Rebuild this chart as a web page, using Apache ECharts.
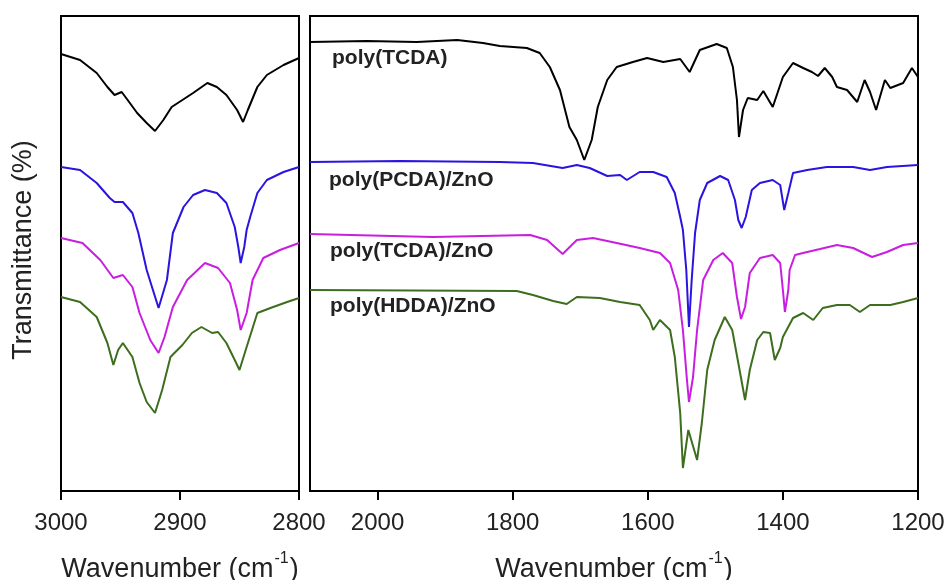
<!DOCTYPE html>
<html>
<head>
<meta charset="utf-8">
<script src="https://cdn.jsdelivr.net/npm/echarts@6/dist/echarts.min.js"></script>
<style>html,body{margin:0;padding:0;background:#fff;overflow:hidden}#c{width:944px;height:580px}</style>
</head>
<body>
<div id="c"></div>
<script>
// ---- Left panel (C-H stretching region), wavenumber in cm-1, transmittance in arbitrary offset units
const leftTicks = [3000, 2900, 2800];
const wnL_TCDA = [3000,2984,2970,2961,2955,2949,2944,2936,2928,2921,2914,2907,2898,2889,2877,2869,2861,2852,2847,2843,2835,2827,2813,2800];
const tL_TCDA  = [437,431,418,404,396,399,391,378,368,360,371,384,391,398,408,404,396,381,369,381,404,416,426,433];
const wnL_PCDAZnO = [3000,2984,2970,2959,2955,2948,2940,2935,2928,2918,2911,2906,2897,2889,2879,2869,2861,2854,2851,2849,2846,2844,2841,2835,2827,2813,2800];
const tL_PCDAZnO  = [324,321,308,293,289,289,278,258,221,183,211,258,284,296,301,298,288,264,244,228,244,261,274,298,311,319,324];
const wnL_TCDAZnO = [3000,2982,2967,2956,2948,2940,2934,2925,2918,2913,2906,2894,2879,2868,2858,2852,2849,2844,2839,2830,2816,2800];
const tL_TCDAZnO  = [253,248,231,213,216,204,178,151,138,154,184,211,228,223,208,181,161,178,211,233,241,248];
const wnL_HDDAZnO = [3000,2984,2970,2961,2956,2952,2948,2940,2934,2928,2921,2915,2908,2898,2890,2882,2873,2868,2861,2854,2850,2844,2835,2824,2810,2800];
const tL_HDDAZnO  = [194,189,174,148,126,141,148,134,108,89,78,101,134,146,158,164,158,159,148,131,121,144,178,183,189,193];

// ---- Right panel (fingerprint region)
const rightTicks = [2000, 1800, 1600, 1400, 1200];
const wnR_TCDA = [2100,2016,1942,1882,1844,1819,1779,1760,1745,1730,1716,1705,1694,1683,1674,1660,1646,1622,1601,1577,1552,1538,1523,1498,1483,1474,1468,1465,1459,1452,1438,1429,1415,1400,1385,1370,1357,1348,1338,1327,1320,1305,1290,1279,1271,1262,1249,1241,1222,1209,1200];
const tR_TCDA  = [449,450,449,451,448,445,443,438,424,401,364,351,331,351,384,411,424,429,433,429,432,419,441,447,443,424,391,354,381,393,391,400,384,414,428,423,419,415,423,414,404,401,389,411,399,381,411,403,408,423,414];
const wnR_PCDAZnO = [2100,1967,1819,1770,1726,1705,1686,1660,1641,1631,1612,1592,1572,1560,1552,1548,1543,1539,1535,1530,1523,1512,1493,1481,1471,1466,1461,1455,1446,1434,1415,1404,1398,1392,1385,1364,1335,1296,1271,1246,1200];
const tR_PCDAZnO  = [329,330,329,328,323,326,323,315,316,311,319,319,314,298,274,261,221,164,211,258,291,308,315,311,291,271,263,274,301,308,311,306,281,298,318,321,324,324,321,324,326];
const wnR_TCDAZnO = [2100,1918,1774,1749,1726,1705,1681,1646,1612,1582,1567,1555,1548,1542,1539,1533,1527,1518,1503,1489,1475,1468,1462,1456,1449,1434,1415,1404,1400,1397,1392,1390,1382,1364,1345,1320,1296,1268,1246,1222,1200];
const tR_TCDAZnO  = [257,254,256,251,237,251,253,248,243,238,228,201,161,111,89,114,161,211,231,238,228,194,172,184,218,233,236,228,201,179,201,221,236,239,242,246,243,234,239,246,248];
const wnR_HDDAZnO = [2100,1794,1770,1740,1720,1705,1671,1641,1612,1597,1592,1582,1567,1560,1552,1548,1540,1527,1520,1512,1501,1486,1475,1466,1456,1449,1438,1429,1419,1412,1404,1400,1385,1370,1355,1341,1320,1301,1286,1271,1241,1222,1200];
const tR_HDDAZnO  = [201,200,196,190,187,194,193,189,186,171,161,171,161,134,78,23,61,31,68,121,151,174,161,128,91,121,151,159,158,131,143,154,173,178,171,183,186,186,179,186,186,189,193];

const seriesNames = ['poly(TCDA)', 'poly(PCDA)/ZnO', 'poly(TCDA)/ZnO', 'poly(HDDA)/ZnO'];
const seriesColors = ['#000000', '#2a14e0', '#c81ee0', '#3c6e1e'];
const yTitle = 'Transmittance (%)';

const FONT = '"Liberation Sans", Arial, sans-serif';
const zip = (a, b) => a.map((x, i) => [x, b[i]]);

const leftSets = [[wnL_TCDA,tL_TCDA],[wnL_PCDAZnO,tL_PCDAZnO],[wnL_TCDAZnO,tL_TCDAZnO],[wnL_HDDAZnO,tL_HDDAZnO]];
const rightSets = [[wnR_TCDA,tR_TCDA],[wnR_PCDAZnO,tR_PCDAZnO],[wnR_TCDAZnO,tR_TCDAZnO],[wnR_HDDAZnO,tR_HDDAZnO]];

const series = [];
leftSets.forEach((s, i) => series.push({
  name: seriesNames[i], type: 'line', xAxisIndex: 0, yAxisIndex: 0,
  data: zip(s[0], s[1]), symbol: 'none', smooth: false,
  lineStyle: {color: seriesColors[i], width: 2}, itemStyle: {color: seriesColors[i]}
}));
rightSets.forEach((s, i) => series.push({
  name: seriesNames[i], type: 'line', xAxisIndex: 1, yAxisIndex: 1,
  data: zip(s[0], s[1]), symbol: 'none', smooth: false,
  lineStyle: {color: seriesColors[i], width: 2}, itemStyle: {color: seriesColors[i]}
}));

const xName = '{t|Wavenumber (cm}{s|-1}{t|)}';
const xNameStyle = {
  rich: {
    t: {fontSize: 27, fontFamily: FONT, color: '#222', lineHeight: 32, verticalAlign: 'bottom'},
    s: {fontSize: 16, fontFamily: FONT, color: '#222', lineHeight: 32, verticalAlign: 'top', padding: [0, 1, 0, 1]}
  }
};
function xAxisCfg(gi, min, max, interval, showMax) {
  return {
    gridIndex: gi, type: 'value', inverse: true, min: min, max: max, interval: interval,
    axisLine: {show: true, onZero: false, lineStyle: {color: '#000', width: 2}},
    axisTick: {show: true, inside: false, length: 9, lineStyle: {color: '#000', width: 2}},
    axisLabel: {show: true, margin: 20, fontSize: 24, fontFamily: FONT, color: '#222',
      showMinLabel: true, showMaxLabel: showMax, hideOverlap: false, formatter: v => String(v)},
    splitLine: {show: false},
    name: xName, nameLocation: 'middle', nameGap: 60, nameTextStyle: xNameStyle
  };
}
function yAxisCfg(gi) {
  return {gridIndex: gi, type: 'value', min: 0, max: 475, show: false, splitLine: {show: false}};
}

const labelPos = [[332, 60], [329, 182], [330, 253], [330, 308]];
const graphic = seriesNames.map((n, i) => ({
  type: 'text', left: labelPos[i][0], top: labelPos[i][1] - 12,
  style: {text: n, font: 'bold 21px ' + FONT, fill: '#222'}
}));
graphic.push({
  type: 'text', x: 24, y: 250, rotation: Math.PI / 2,
  style: {text: yTitle, font: '27px ' + FONT, fill: '#222', align: 'center', verticalAlign: 'middle'}
});

const chart = echarts.init(document.getElementById('c'), null, {renderer: 'canvas'});
chart.setOption({
  animation: false,
  backgroundColor: '#fff',
  grid: [
    {left: 61, top: 16, width: 238, height: 475, show: true, borderColor: '#000', borderWidth: 2,
     backgroundColor: 'transparent', containLabel: false, outerBoundsMode: 'none'},
    {left: 310, top: 16, width: 608, height: 475, show: true, borderColor: '#000', borderWidth: 2,
     backgroundColor: 'transparent', containLabel: false, outerBoundsMode: 'none'}
  ],
  xAxis: [xAxisCfg(0, leftTicks[leftTicks.length - 1], leftTicks[0], 100, true),
          xAxisCfg(1, rightTicks[rightTicks.length - 1], 2100, 200, false)],
  yAxis: [yAxisCfg(0), yAxisCfg(1)],
  series: series,
  graphic: graphic
});
</script>
</body>
</html>
